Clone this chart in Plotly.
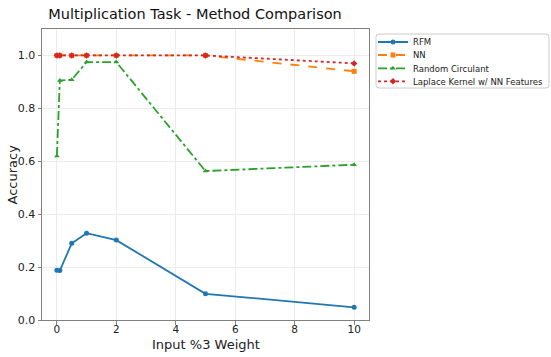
import plotly.graph_objects as go

x_vals = [0, 0.1, 0.5, 1, 2, 5, 10]
rfm = [0.188, 0.187, 0.290, 0.328, 0.302, 0.099, 0.048]
nn = [1.0, 1.0, 1.0, 1.0, 1.0, 1.0, 0.94]
circulant = [0.62, 0.905, 0.908, 0.975, 0.975, 0.563, 0.587]
laplace = [1.0, 1.0, 1.0, 1.0, 1.0, 1.0, 0.97]

W, H = 551, 357
L, R, T, B = 42, 369, 29, 320
PW, PH = R - L, B - T

series = [
    ("RFM", rfm, "#1f77b4", "solid", "circle", "legend"),
    ("NN", nn, "#ff7f0e", "dash", "square", "legend2"),
    ("Random Circulant", circulant, "#2ca02c", "dashdot", "triangle-up", "legend3"),
    ("Laplace Kernel w/ NN Features", laplace, "#d62728", "dot", "diamond", "legend4"),
]

fig = go.Figure()
for name, ys, color, dash, sym, leg in series:
    fig.add_trace(go.Scatter(x=x_vals, y=ys, name=name, mode="lines+markers",
                             line=dict(color=color, width=1.8, dash=dash),
                             marker=dict(symbol=sym, size=5), legend=leg))

legend_centers = [42, 55, 68.3, 81.3]
leg_common = dict(xref="paper", yref="container", xanchor="left", yanchor="top",
                  bgcolor="rgba(0,0,0,0)", borderwidth=0, font=dict(size=8.5, color="#222"),
                  itemwidth=30)
legends = {}
for i, c in enumerate(legend_centers):
    key = "legend" if i == 0 else f"legend{i+1}"
    legends[key] = dict(leg_common, x=(373 - L) / PW, y=1 - (c - 14.5) / H)

fig.update_layout(
    width=W, height=H,
    paper_bgcolor="white", plot_bgcolor="white",
    margin=dict(l=L, r=W - R, t=T, b=H - B, autoexpand=False),
    font=dict(family="DejaVu Sans", color="#222"),
    title=dict(text="Multiplication Task - Method Comparison", x=195 / W, xref="container",
               xanchor="center", y=1 - 14 / H, yanchor="middle",
               font=dict(size=14.5, color="#111")),
    showlegend=True,
    **legends,
)

# legend frame (rounded rectangle, paper coordinates)
fx0, fx1 = (376 - L) / PW, (549 - L) / PW
fy0, fy1 = (B - 88) / PH, (B - 34) / PH
rx, ry = 3 / PW, 3 / PH
path = (f"M{fx0+rx},{fy1} L{fx1-rx},{fy1} Q{fx1},{fy1} {fx1},{fy1-ry} "
        f"L{fx1},{fy0+ry} Q{fx1},{fy0} {fx1-rx},{fy0} L{fx0+rx},{fy0} "
        f"Q{fx0},{fy0} {fx0},{fy0+ry} L{fx0},{fy1-ry} Q{fx0},{fy1} {fx0+rx},{fy1} Z")
fig.add_shape(type="path", xref="paper", yref="paper", path=path,
              line=dict(color="#cccccc", width=1), fillcolor="rgba(0,0,0,0)", layer="above")

# axis titles
fig.add_annotation(text="Input %3 Weight", xref="paper", yref="paper",
                   x=0.5, y=(B - 344) / PH, xanchor="center", yanchor="middle",
                   showarrow=False, font=dict(size=13, color="#222"))
fig.add_annotation(text="Accuracy", xref="paper", yref="paper",
                   x=(12 - L) / PW, y=0.5, xanchor="center", yanchor="middle",
                   textangle=-90, showarrow=False, font=dict(size=13, color="#222"))

fig.update_xaxes(range=[-0.5, 10.5], tickvals=[0, 2, 4, 6, 8, 10],
                 showgrid=True, gridcolor="#ececec", gridwidth=1,
                 showline=True, linecolor="#808080", linewidth=1, mirror=True,
                 ticks="outside", ticklen=3.5, tickcolor="#808080",
                 tickfont=dict(size=10.5), zeroline=False, ticklabelstandoff=-4)
fig.update_yaxes(range=[0, 1.1], tickvals=[0, 0.2, 0.4, 0.6, 0.8, 1.0],
                 ticktext=["0.0", "0.2", "0.4", "0.6", "0.8", "1.0"],
                 showgrid=True, gridcolor="#ececec", gridwidth=1,
                 showline=True, linecolor="#808080", linewidth=1, mirror=True,
                 ticks="outside", ticklen=3.5, tickcolor="#808080",
                 tickfont=dict(size=11), zeroline=False)

fig.write_html("out.html")
